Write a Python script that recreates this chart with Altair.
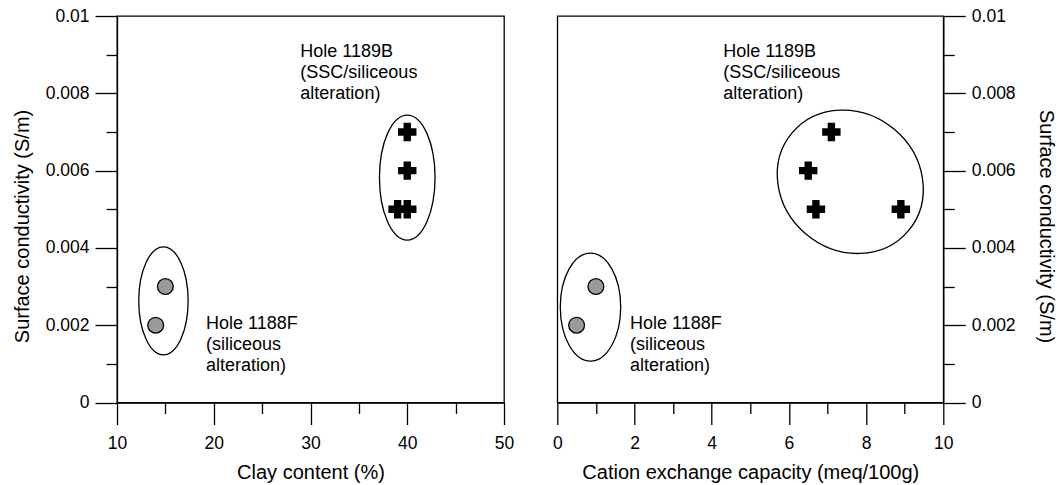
import math
import altair as alt
import pandas as pd

# ---------------- data ----------------
# Hole 1188F (grey circles)
clay_1188 = [15, 14]
cec_1188 = [1.0, 0.5]
sc_1188 = [0.003, 0.002]
# Hole 1189B (black crosses)
clay_1189 = [40, 40, 40, 39]
cec_1189 = [7.1, 6.5, 6.7, 8.9]
sc_1189 = [0.007, 0.006, 0.005, 0.005]

# group outline centres (data units)
ell_left_x = [14.8, 40.0]
ell_left_y = [0.00263, 0.00582]
ell_right_x = [0.86, 7.59]
ell_right_y = [0.00247, 0.00571]

# annotation texts and their anchors (data units)
notes = ["Hole 1189B\n(SSC/siliceous\nalteration)", "Hole 1188F\n(siliceous\nalteration)"]
note_left_x = [28.95, 19.2]
note_left_y = [0.00894, 0.00189]
note_right_x = [4.30, 1.885]
note_right_y = [0.00894, 0.00189]

# axis ticks
clay_major = [10, 20, 30, 40, 50]
clay_minor = [15, 25, 35, 45]
cec_major = [0, 2, 4, 6, 8, 10]
cec_minor = [1, 3, 5, 7, 9]
sc_major = [0, 0.002, 0.004, 0.006, 0.008, 0.01]
sc_minor = [0.001, 0.003, 0.005, 0.007, 0.009]

FONT = "Liberation Sans"
W_L, W_R, H = 387, 386, 386.5


def ellipse_path(a, b, rot_deg):
    """SVG path (unit box) of an ellipse outline with semi-axes a, b px."""
    unit = max(a, b)
    th = math.radians(rot_deg)
    c, s = math.cos(th), math.sin(th)
    k = 0.5522847

    def rot(x, y):
        return ((x * c - y * s) / unit, (x * s + y * c) / unit)

    def pt(t):
        return rot(a * math.cos(t), b * math.sin(t))

    def dv(t):
        return rot(-a * math.sin(t), b * math.cos(t))

    ts = [0, math.pi / 2, math.pi, 3 * math.pi / 2, 2 * math.pi]
    d = "M %.4f %.4f" % pt(0)
    for i in range(4):
        t0, t1 = ts[i], ts[i + 1]
        P0, P1 = pt(t0), pt(t1)
        D0, D1 = dv(t0), dv(t1)
        c1 = (P0[0] + k * D0[0], P0[1] + k * D0[1])
        c2 = (P1[0] - k * D1[0], P1[1] - k * D1[1])
        d += " C %.4f %.4f %.4f %.4f %.4f %.4f" % (c1 + c2 + P1)
    d += " Z"
    return d, (2 * unit) ** 2


def enc_x(dom, axis=None):
    return alt.X("x:Q", scale=alt.Scale(domain=dom, nice=False, zero=False), axis=axis)


def enc_y(axis=None):
    return alt.Y("y:Q", scale=alt.Scale(domain=[0, 0.01], nice=False, zero=False), axis=axis)


common_axis = dict(
    tickColor="black", tickWidth=1.3, domainColor="black", domainWidth=1.3,
    grid=False, labelFont=FONT, labelFontSize=17.5, labelColor="black",
    titleFont=FONT, titleFontSize=20, titleFontWeight="normal", titleColor="black",
    labelFlush=False, labelOverlap=False,
)


def major_x(vals, title):
    return alt.Axis(orient="bottom", values=vals, tickSize=22, labelPadding=10,
                    title=title, titlePadding=10, format="d", **common_axis)


def minor_x(vals):
    return alt.Axis(orient="bottom", values=vals, tickSize=11, labels=False, domain=False,
                    title=None, ticks=True, tickColor="black", tickWidth=1.3, grid=False)


def major_y(orient, padding):
    return alt.Axis(orient=orient, values=sc_major, tickSize=22, labelPadding=6,
                    format="~g", title="Surface conductivity (S/m)", titlePadding=padding,
                    titleY=210, **common_axis)


def minor_y(orient):
    return alt.Axis(orient=orient, values=sc_minor, tickSize=11, labels=False, domain=False,
                    title=None, ticks=True, tickColor="black", tickWidth=1.3, grid=False)


def build(xdom, cx, crossx, ex, ey, shapes, nx, ny, xmaj, xmin, xtitle, yorient, ypad, width):
    layers = []
    for i, (a, b, r) in enumerate(shapes):
        path, size = ellipse_path(a, b, r)
        df = pd.DataFrame({"x": [ex[i]], "y": [ey[i]]})
        layers.append(
            alt.Chart(df).mark_point(shape=path, size=size, filled=False, stroke="black",
                                     strokeWidth=1.3, opacity=1)
            .encode(x=enc_x(xdom), y=enc_y())
        )
    circ = pd.DataFrame({"x": cx, "y": sc_1188})
    layers.append(
        alt.Chart(circ).mark_point(shape="circle", size=250, filled=True, fill="#9a9a9a",
                                   stroke="black", strokeWidth=1.3, opacity=1)
        .encode(x=enc_x(xdom, major_x(xmaj, xtitle)), y=enc_y(major_y(yorient, ypad)))
    )
    crs = pd.DataFrame({"x": crossx, "y": sc_1189})
    layers.append(
        alt.Chart(crs).mark_point(shape="cross", size=340, filled=True, fill="black",
                                  strokeWidth=0, opacity=1)
        .encode(x=enc_x(xdom, minor_x(xmin)), y=enc_y(minor_y(yorient)))
    )
    txt = pd.DataFrame({"x": nx, "y": ny, "label": notes})
    layers.append(
        alt.Chart(txt).mark_text(align="left", baseline="alphabetic", font=FONT, fontSize=18,
                                 lineBreak="\n", lineHeight=21, color="black")
        .encode(x=enc_x(xdom), y=enc_y(), text="label:N")
    )
    return (alt.layer(*layers)
            .resolve_scale(x="independent", y="independent")
            .properties(width=width, height=H,
                        view=alt.ViewBackground(stroke="black", strokeWidth=1.3)))


left = build([10, 50], clay_1188, clay_1189, ell_left_x, ell_left_y,
             [(24.7, 54, 0), (27.8, 62.5, 0)], note_left_x, note_left_y,
             clay_major, clay_minor, "Clay content (%)", "left", 13, W_L)

right = build([0, 10], cec_1188, cec_1189, ell_right_x, ell_right_y,
              [(30.2, 54, 0), (76, 68.5, 40)], note_right_x, note_right_y,
              cec_major, cec_minor, "Cation exchange capacity (meq/100g)", "right", 20, W_R)

chart = (alt.hconcat(left, right, spacing=53.3, bounds="flush")
         .configure_view(stroke="black", strokeWidth=1.3)
         .configure(background="white", padding={"left": 11, "top": 6, "right": 0, "bottom": 0}))

chart.save("out.html", embed_options={"renderer": "svg", "actions": False})
